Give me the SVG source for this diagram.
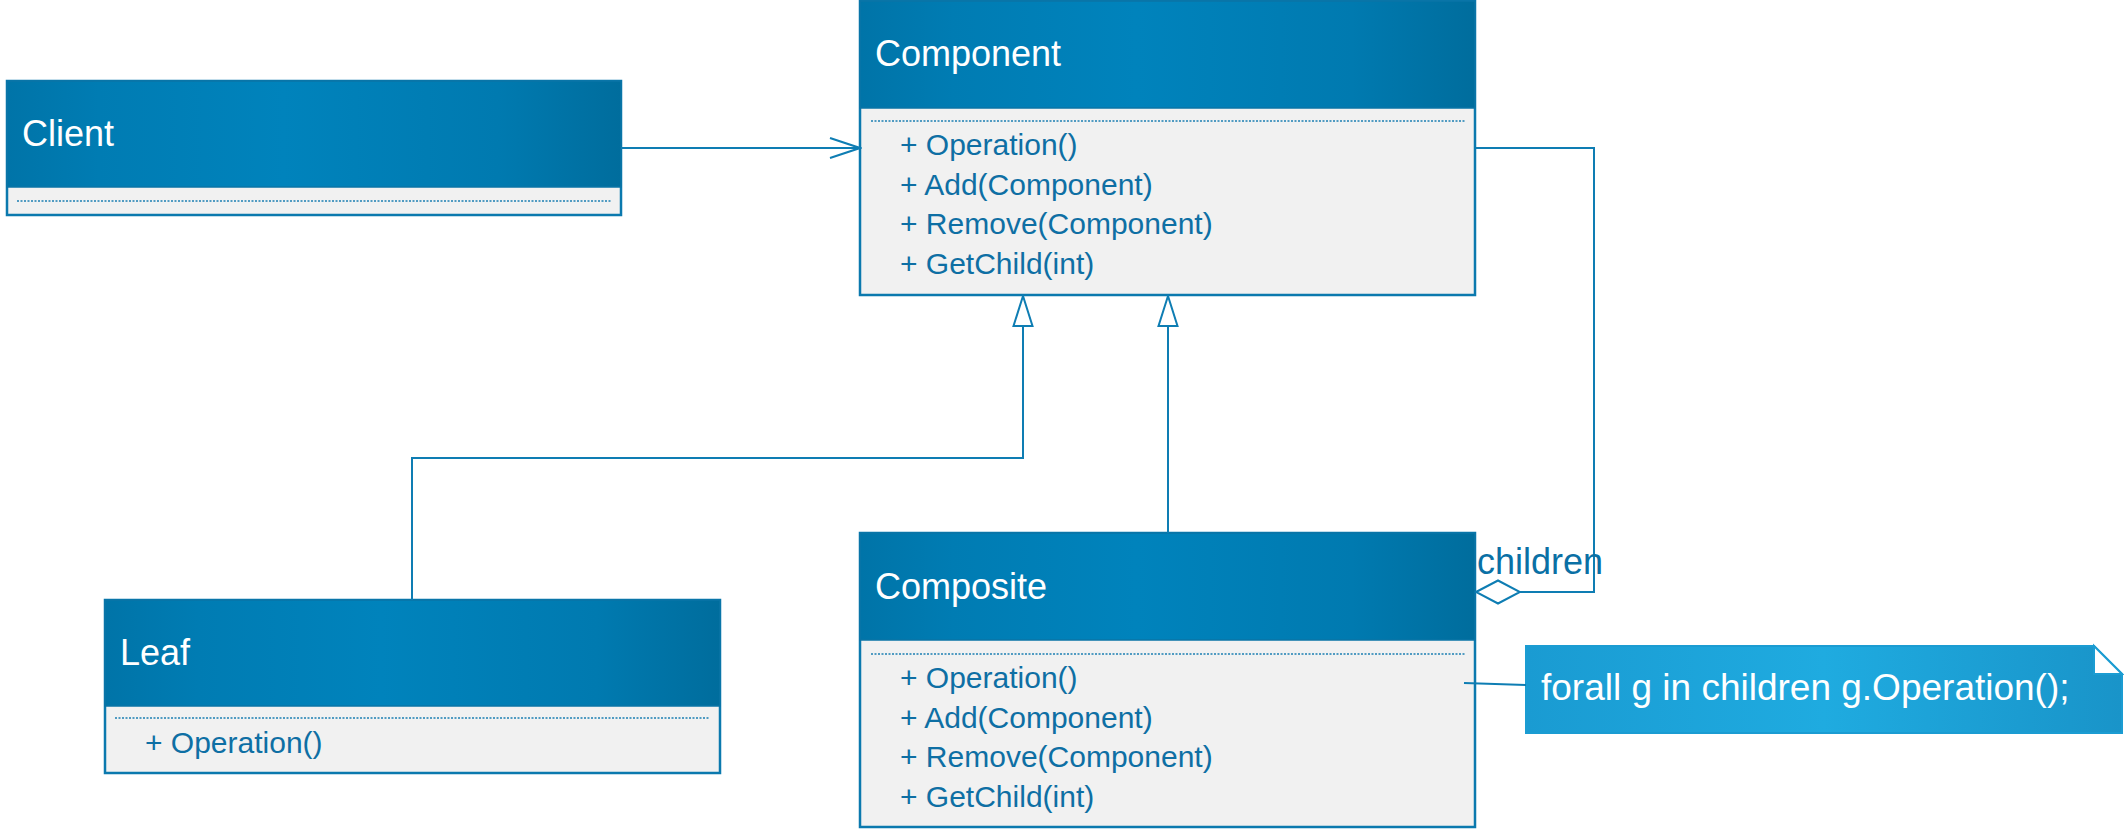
<svg xmlns="http://www.w3.org/2000/svg" width="2124" height="834" viewBox="0 0 2124 834">
<defs>
<linearGradient id="hdr" x1="0" y1="0" x2="1" y2="0">
<stop offset="0" stop-color="#0074a8"/>
<stop offset="0.15" stop-color="#007cb3"/>
<stop offset="0.45" stop-color="#0083bc"/>
<stop offset="0.8" stop-color="#007ab0"/>
<stop offset="1" stop-color="#006d9d"/>
</linearGradient>
<linearGradient id="note" x1="0" y1="0" x2="1" y2="0">
<stop offset="0" stop-color="#1a9bd2"/>
<stop offset="0.5" stop-color="#1fabe0"/>
<stop offset="1" stop-color="#1994c9"/>
</linearGradient>
<marker id="open" viewBox="-32 -12 34 24" refX="0" refY="0" markerWidth="34" markerHeight="24" markerUnits="userSpaceOnUse" orient="auto">
<path d="M-30,-10 L0,0 L-30,10" fill="none" stroke="#0e7db3" stroke-width="2"/>
</marker>
<marker id="tri" viewBox="-32 -12 34 24" refX="0" refY="0" markerWidth="34" markerHeight="24" markerUnits="userSpaceOnUse" orient="auto">
<path d="M0,0 L-30,-9.5 L-30,9.5 Z" fill="#ffffff" stroke="#0e7db3" stroke-width="2"/>
</marker>
<marker id="dia" viewBox="-2 -14 48 28" refX="0" refY="0" markerWidth="48" markerHeight="28" markerUnits="userSpaceOnUse" orient="auto">
<path d="M0,0 L22,-11.5 L44,0 L22,11.5 Z" fill="#ffffff" stroke="#0e7db3" stroke-width="2"/>
</marker>
</defs>
<style>
.box{fill:#f1f1f1;stroke:#0b79ae;stroke-width:2.5}
.hdr{fill:url(#hdr);stroke:#0a74a6;stroke-width:1.5}
.sep{stroke:#1b7fb3;stroke-width:1.5;stroke-dasharray:2 1.5}
.title{font-family:"Liberation Sans",Arial,sans-serif;font-size:36px;fill:#ffffff}
.mem{font-family:"Liberation Sans",Arial,sans-serif;font-size:30px;fill:#0e6fa4}
.lbl{font-family:"Liberation Sans",Arial,sans-serif;font-size:36px;fill:#0a70a5}
.notetxt{font-family:"Liberation Sans",Arial,sans-serif;font-size:37px;fill:#ffffff}
.con{fill:none;stroke:#0e7db3;stroke-width:2}
</style>
<rect width="2124" height="834" fill="#ffffff"/>
<g id="client">
<rect class="box" x="7" y="81" width="614" height="134"/>
<rect class="hdr" x="7" y="81" width="614" height="106"/>
<line class="sep" x1="17" y1="201" x2="611" y2="201"/>
<text class="title" x="22" y="146">Client</text>
</g>
<g id="component">
<rect class="box" x="860" y="1" width="615" height="294"/>
<rect class="hdr" x="860" y="1" width="615" height="107"/>
<line class="sep" x1="871" y1="121" x2="1465" y2="121"/>
<text class="title" x="875" y="66">Component</text>
<text class="mem" x="900" y="155">+ Operation()</text>
<text class="mem" x="900" y="194.5">+ Add(Component)</text>
<text class="mem" x="900" y="234">+ Remove(Component)</text>
<text class="mem" x="900" y="273.5">+ GetChild(int)</text>
</g>
<g id="leaf">
<rect class="box" x="105" y="600" width="615" height="173"/>
<rect class="hdr" x="105" y="600" width="615" height="106"/>
<line class="sep" x1="115" y1="718" x2="710" y2="718"/>
<text class="title" x="120" y="665">Leaf</text>
<text class="mem" x="145" y="753">+ Operation()</text>
</g>
<g id="composite">
<rect class="box" x="860" y="533" width="615" height="294"/>
<rect class="hdr" x="860" y="533" width="615" height="107"/>
<line class="sep" x1="871" y1="654" x2="1465" y2="654"/>
<text class="title" x="875" y="599">Composite</text>
<text class="mem" x="900" y="688">+ Operation()</text>
<text class="mem" x="900" y="727.5">+ Add(Component)</text>
<text class="mem" x="900" y="767">+ Remove(Component)</text>
<text class="mem" x="900" y="806.5">+ GetChild(int)</text>
</g>
<g id="note">
<path d="M1526,646 L2094,646 L2122,674 L2122,733 L1526,733 Z" fill="url(#note)" stroke="#1b9cd2" stroke-width="2"/>
<path d="M2094,646 L2094,674 L2122,674 Z" fill="#ffffff" stroke="#1b9cd2" stroke-width="2"/>
<text class="notetxt" x="1541" y="700">forall g in children g.Operation();</text>
</g>
<g id="connectors">
<path class="con" d="M621,148 L860,148" marker-end="url(#open)"/>
<path class="con" d="M412,600 L412,458 L1023,458 L1023,296" marker-end="url(#tri)"/>
<path class="con" d="M1168,533 L1168,296" marker-end="url(#tri)"/>
<path class="con" d="M1476,592 L1594,592 L1594,148 L1476,148" marker-start="url(#dia)"/>
<path class="con" d="M1464,683 L1526,685" stroke-width="2.5"/>
<text class="lbl" x="1477" y="574">children</text>
</g>
</svg>
